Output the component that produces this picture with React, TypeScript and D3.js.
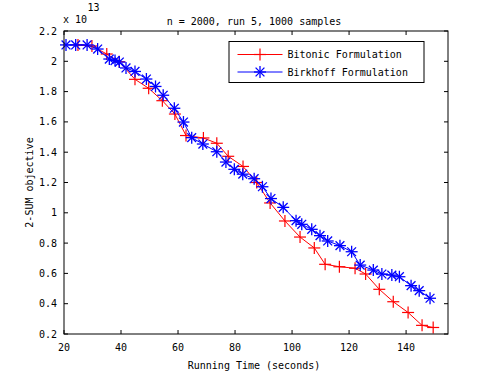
import React from "react";
import * as d3 from "d3";

const titleText = "n = 2000, run 5, 1000 samples";
const xLabel = "Running Time (seconds)";
const yLabel = "2-SUM objective";
const seriesNames = ["Bitonic Formulation", "Birkhoff Formulation"];
const xTicks = [20, 40, 60, 80, 100, 120, 140];
const yTicks = [0.2, 0.4, 0.6, 0.8, 1, 1.2, 1.4, 1.6, 1.8, 2, 2.2];

// values in units of 1e13
const bitonicX = [24.9, 29.8, 35.0, 39.4, 44.9, 49.7, 54.5, 58.9, 62.8, 68.9, 73.6, 77.6, 82.8, 87.6, 92.3, 97.5, 102.8, 107.8, 111.6, 116.6, 122.1, 125.8, 130.6, 135.5, 140.7, 145.6, 149.5];
const bitonicY = [2.108, 2.101, 2.048, 1.997, 1.881, 1.822, 1.74, 1.652, 1.51, 1.494, 1.459, 1.373, 1.306, 1.2, 1.065, 0.946, 0.84, 0.768, 0.66, 0.644, 0.634, 0.596, 0.495, 0.413, 0.342, 0.257, 0.243];

const birkhoffX = [20.7, 24.1, 28.1, 31.8, 35.9, 37.9, 39.4, 41.75, 44.9, 48.9, 52.1, 54.8, 58.7, 61.9, 64.8, 68.7, 73.6, 76.8, 79.75, 82.7, 86.7, 89.6, 92.6, 96.9, 101.4, 103.4, 106.9, 109.8, 112.5, 116.8, 120.9, 123.9, 128.5, 131.5, 135.0, 137.65, 141.75, 144.6, 148.4];
const birkhoffY = [2.108, 2.108, 2.108, 2.081, 2.015, 2.005, 1.995, 1.956, 1.933, 1.883, 1.834, 1.776, 1.69, 1.599, 1.496, 1.454, 1.403, 1.335, 1.287, 1.255, 1.225, 1.172, 1.094, 1.036, 0.948, 0.924, 0.891, 0.849, 0.814, 0.783, 0.743, 0.655, 0.622, 0.596, 0.589, 0.578, 0.519, 0.486, 0.436];

const W = 495, H = 375;
const left = 64, right = 448, top = 31, bottom = 334;
const FONT = "'DejaVu Sans Mono', monospace";

const x = d3.scaleLinear().domain([20, 154.7]).range([left, right]);
const y = d3.scaleLinear().domain([0.2, 2.2]).range([bottom, top]);

const line = d3.line<[number, number]>().x(d => x(d[0])).y(d => y(d[1]));

function Plus({ cx, cy, color }: { cx: number; cy: number; color: string }) {
  const r = 6;
  return (
    <g stroke={color} strokeWidth={1.2}>
      <line x1={cx - r} y1={cy} x2={cx + r} y2={cy} />
      <line x1={cx} y1={cy - r} x2={cx} y2={cy + r} />
    </g>
  );
}

function Star({ cx, cy, color }: { cx: number; cy: number; color: string }) {
  const r = 6, d = 4.4;
  return (
    <g stroke={color} strokeWidth={1.3}>
      <line x1={cx - r} y1={cy} x2={cx + r} y2={cy} />
      <line x1={cx} y1={cy - r} x2={cx} y2={cy + r} />
      <line x1={cx - d} y1={cy - d} x2={cx + d} y2={cy + d} />
      <line x1={cx - d} y1={cy + d} x2={cx + d} y2={cy - d} />
    </g>
  );
}

export default function App() {
  const red = "#ff0000", blue = "#0000ff";
  const bit: [number, number][] = bitonicX.map((v, i) => [v, bitonicY[i]]);
  const bir: [number, number][] = birkhoffX.map((v, i) => [v, birkhoffY[i]]);
  const tl = 4;
  const lgX = 229, lgY = 41.5, lgW = 195, lgH = 41;
  return (
    <svg width={W} height={H} style={{ position: "absolute", left: 0, top: 0, background: "#fff" }} fontFamily={FONT} fontSize={10}>
      <rect x={0} y={0} width={W} height={H} fill="#fff" />
      <g fill="none">
        <path d={line(bit) || ""} stroke={red} strokeWidth={1} />
        {bit.map((p, i) => <Plus key={i} cx={x(p[0])} cy={y(p[1])} color={red} />)}
        <path d={line(bir) || ""} stroke={blue} strokeWidth={1} />
        {bir.map((p, i) => <Star key={i} cx={x(p[0])} cy={y(p[1])} color={blue} />)}
      </g>
      {/* axes box */}
      <rect x={left} y={top} width={right - left} height={bottom - top} fill="none" stroke="#000" strokeWidth={1} />
      {xTicks.map(t => (
        <g key={t}>
          <line x1={x(t)} x2={x(t)} y1={bottom} y2={bottom - tl} stroke="#000" />
          <line x1={x(t)} x2={x(t)} y1={top} y2={top + tl} stroke="#000" />
          <text x={x(t)} y={351} textAnchor="middle">{t}</text>
        </g>
      ))}
      {yTicks.map(t => (
        <g key={t}>
          <line x1={left} x2={left + tl} y1={y(t)} y2={y(t)} stroke="#000" />
          <line x1={right} x2={right - tl} y1={y(t)} y2={y(t)} stroke="#000" />
          <text x={57} y={y(t) + 3.5} textAnchor="end">{d3.format("~g")(t)}</text>
        </g>
      ))}
      <text x={63} y={22.5}>x 10</text>
      <text x={87.5} y={11}>13</text>
      <text x={254} y={24.5} textAnchor="middle">{titleText}</text>
      <text x={254} y={369} textAnchor="middle">{xLabel}</text>
      <text transform={`translate(33,${(top + bottom) / 2}) rotate(-90)`} textAnchor="middle">{yLabel}</text>
      {/* legend */}
      <rect x={lgX} y={lgY} width={lgW} height={lgH} fill="#fff" stroke="#000" />
      <line x1={237.5} x2={282.5} y1={54.5} y2={54.5} stroke={red} />
      <Plus cx={260} cy={54.5} color={red} />
      <text x={287.5} y={58}>{seriesNames[0]}</text>
      <line x1={237.5} x2={282.5} y1={72} y2={72} stroke={blue} />
      <Star cx={260} cy={72} color={blue} />
      <text x={287.5} y={75.5}>{seriesNames[1]}</text>
    </svg>
  );
}
